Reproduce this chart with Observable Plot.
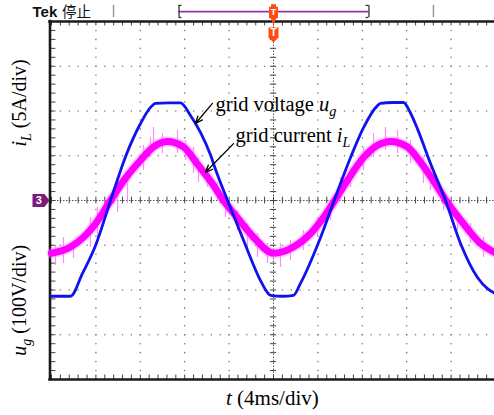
<!DOCTYPE html>
<html><head><meta charset="utf-8">
<script src="https://cdn.jsdelivr.net/npm/d3@7"></script>
<script src="https://cdn.jsdelivr.net/npm/@observablehq/plot@0.6"></script>
<style>html,body{margin:0;padding:0;background:#fff;overflow:hidden;}</style>
</head><body><div id="chart"></div>
<script>
// ---- data ----
// grid voltage u_g: time (ms), volts (100 V/div)
const voltT = [0,1.71,2.79,3.96,5.32,6.67,8.02,8.92,9.37,10.54,11.62,12.52,13.42,14.32,14.77,15.86,17.30,18.83,19.46,19.73,20.81,21.80,22.43,24.23,25.41,26.94,28.11,29.37,29.64,30.72,31.71,32.35,32.97,34.14,35.50,36.85,38.38,39.28,40];
const voltV = [-214,-214,-163,-101,0,98,172,208,217,218,218,190,152,102,70,0,-89,-179,-206,-212,-214,-212,-185,-83,-4,96,163,212,217,219,219,195,160,83,0,-96,-172,-197,-208];
// grid current i_L: time (ms), amps (5 A/div)
const currT = [0,1.71,2.88,3.96,5.32,6.67,8.02,9.19,10.42,11.89,13.13,13.69,14.59,15.5,16.73,18.2,20.0,21.8,23.33,24.5,25.41,26.64,28.11,29.34,30.54,32.04,33.24,34.41,35.65,37.12,38.65,40];
const currA = [-5.9,-5.2,-4.1,-2.6,0,2.5,4.5,6.0,6.6,6.0,4.1,3.2,1.7,0,-1.9,-4.1,-5.9,-5.2,-3.7,-1.9,-0.2,2.2,4.8,6.15,6.6,6.0,4.3,2.2,-0.2,-2.6,-4.8,-5.85];
// noise spikes on the current trace: time (ms), top (A), bottom (A)
const spikeT  = [0.36,1.08,1.98,3.51,4.14,5.95,6.85,8.29,8.92,9.19,10.0,11.35,12.07,12.79,13.24,14.05,14.95,15.68,16.76,17.66,18.56,19.46,20.63,21.53,22.70,23.96,25.14,26.04,26.94,28.11,29.01,30.09,31.17,32.34,33.51,34.14,35.32,36.58,37.75,38.92];
const spikeHi = [-5.03,-4.13,-4.47,-1.90,-0.78,1.12,3.02,6.15,7.04,8.16,7.49,7.82,6.70,5.92,4.80,3.69,2.01,0.34,-1.12,-2.57,-3.69,-4.80,-4.80,-4.47,-3.35,-1.90,-0.34,2.57,3.69,5.92,7.49,8.16,7.82,6.70,4.80,3.69,1.12,-1.12,-2.57,-4.13];
const spikeLo = [-7.26,-7.04,-6.48,-5.25,-4.13,-1.34,-0.34,3.35,4.80,5.59,5.25,5.25,4.47,3.02,2.01,1.45,0,-1.90,-3.35,-5.25,-6.37,-7.04,-7.49,-6.70,-5.59,-4.13,-2.23,0,1.45,3.35,4.80,5.59,5.25,4.13,1.90,1.12,-1.12,-3.35,-4.80,-6.37];
// graticule: 10 horizontal divisions of 4 ms, 8 vertical divisions
const xTicks = [0,4,8,12,16,20,24,28,32,36,40];
const yTicks = [-4,-3,-2,-1,0,1,2,3,4];
const voltsPerDiv = 100, ampsPerDiv = 5, minorPerDiv = 5;

// ---- derived tables ----
const volt = voltT.map((t,i)=>({t, d: voltV[i]/voltsPerDiv}));
const curr = currT.map((t,i)=>({t, d: currA[i]/ampsPerDiv}));
const spikes = spikeT.map((t,i)=>({t, hi: spikeHi[i]/ampsPerDiv, lo: spikeLo[i]/ampsPerDiv}));
const xStep = (xTicks[1]-xTicks[0])/minorPerDiv, yStep = (yTicks[1]-yTicks[0])/minorPerDiv;
const xMinor = d3.range(xTicks[0], xTicks[xTicks.length-1]+1e-9, xStep);
const yMinor = d3.range(yTicks[0], yTicks[yTicks.length-1]+1e-9, yStep);
const xMid = xTicks[5], x0 = xTicks[0], yTop = yTicks[yTicks.length-1], yBot = yTicks[0];
const gridDots = [];
for (const x of xTicks) if (x!==x0 && x!==xMid && x!==xTicks[10]) for (const y of yMinor) gridDots.push({x,y});
for (const y of yTicks) if (y!==yTop && y!==yBot && y!==0) for (const x of xMinor) gridDots.push({x,y});

// custom marker shapes
const chMarker = {draw(c){c.moveTo(-8,-6.5);c.lineTo(4,-6.5);c.lineTo(9,0);c.lineTo(4,6.5);c.lineTo(-8,6.5);c.closePath();}};
const trigTop = {draw(c){c.moveTo(-2.5,-7.5);c.lineTo(2.5,-7.5);c.lineTo(2.5,-5);c.lineTo(4.5,-5);c.lineTo(4.5,6);c.lineTo(2.5,7);c.lineTo(0,13);c.lineTo(-2.5,7);c.lineTo(-4.5,6);c.lineTo(-4.5,-5);c.lineTo(-2.5,-5);c.closePath();}};
const trigBot = {draw(c){c.moveTo(-5,-6);c.lineTo(5,-6);c.lineTo(5,4);c.lineTo(0,9);c.lineTo(-5,4);c.closePath();}};

const serif = "Liberation Serif, Times New Roman, serif";
const sans = "Liberation Sans, Arial, sans-serif";
const orange = "#ff4a14";

const chart = Plot.plot({
  width: 494, height: 415,
  marginLeft: 0, marginRight: 0, marginTop: 0, marginBottom: 0,
  style: {background: "#fff", overflow: "visible"},
  x: {domain: [0, 40], range: [51, 495], axis: null},
  y: {domain: [-4, 4], range: [379, 21], axis: null},
  marks: [
    // graticule dots
    Plot.dot(gridDots, {x: "x", y: "y", r: 0.8, fill: "#7a7a7a", stroke: null}),
    // centre lines with minor ticks
    Plot.ruleY([0], {x1: 0, x2: 40, stroke: "#555", strokeWidth: 1, strokeDasharray: "1.5 1.5"}),
    Plot.ruleX([xMid], {y1: -4, y2: 4, stroke: "#555", strokeWidth: 1, strokeDasharray: "1.5 1.5"}),
    Plot.ruleX(xMinor, {x: d=>d, y1: -0.075, y2: 0.075, stroke: "#444", strokeWidth: 1}),
    Plot.ruleY(yMinor, {y: d=>d, x1: xMid-0.28, x2: xMid+0.28, stroke: "#444", strokeWidth: 1}),
    // border ticks
    Plot.ruleX(xMinor, {x: d=>d, y1: 4, y2: 3.9, stroke: "#444", strokeWidth: 1}),
    Plot.ruleX(xMinor, {x: d=>d, y1: -4, y2: -3.9, stroke: "#444", strokeWidth: 1}),
    Plot.ruleY(yMinor, {y: d=>d, x1: 0, x2: 0.4, stroke: "#444", strokeWidth: 1}),
    // frame
    Plot.ruleX([0], {y1: -4.03, y2: 4.03, dx: -1.5, stroke: "#1a1a1a", strokeWidth: 2.6}),
    Plot.ruleY([4], {x1: -0.25, x2: 40, stroke: "#1a1a1a", strokeWidth: 2.6}),
    Plot.ruleY([-4], {x1: -0.25, x2: 40, stroke: "#1a1a1a", strokeWidth: 2.6}),
    // current trace (noisy band)
    Plot.line(curr, {x: "t", y: "d", stroke: "#ff77ff", strokeWidth: 10.5, strokeOpacity: 0.35, curve: "monotone-x"}),
    Plot.ruleX(spikes, {x: "t", y1: "lo", y2: "hi", stroke: "#ff80ff", strokeWidth: 1.2, strokeOpacity: 0.9}),
    Plot.line(curr, {x: "t", y: "d", stroke: "#ff00ff", strokeWidth: 7, curve: "monotone-x"}),
    // voltage trace
    Plot.line(volt, {x: "t", y: "d", stroke: "#1212ee", strokeWidth: 2.8, curve: "monotone-x"}),
    // annotations
    Plot.arrow([0], {x1: 14.5, y1: 2.17, x2: 12.97, y2: 1.72, stroke: "#000", strokeWidth: 1.3, headLength: 9, headAngle: 45}),
    Plot.arrow([0], {x1: 16.4, y1: 1.27, x2: 13.87, y2: 0.63, stroke: "#000", strokeWidth: 1.3, headLength: 9, headAngle: 45}),
    Plot.text(["grid voltage"], {x: 14.77, y: 2.01, text: d=>d, textAnchor: "start", lineAnchor: "bottom", fontFamily: serif, fontSize: 20.5, fill: "#000"}),
    Plot.text(["grid current"], {x: 16.58, y: 1.30, text: d=>d, textAnchor: "start", lineAnchor: "bottom", fontFamily: serif, fontSize: 20.5, fill: "#000"}),
    // axis-like labels
    Plot.text(["iL (5A/div)"], {x: -2.3, y: 2.18, text: d=>d, rotate: -90, textAnchor: "middle", lineAnchor: "bottom", fontFamily: serif, fontSize: 20, fill: "#000"}),
    Plot.text(["ug (100V/div)"], {x: -2.3, y: -2.23, text: d=>d, rotate: -90, textAnchor: "middle", lineAnchor: "bottom", fontFamily: serif, fontSize: 20, fill: "#000"}),
    Plot.text(["t (4ms/div)"], {x: 19.9, y: -4.56, text: d=>d, textAnchor: "middle", lineAnchor: "bottom", fontFamily: serif, fontSize: 21, fill: "#000"}),
    // header
    Plot.text(["Tek"], {x: -1.71, y: 4.09, text: d=>d, textAnchor: "start", lineAnchor: "bottom", fontFamily: sans, fontWeight: "bold", fontSize: 15, fill: "#111"}),
    Plot.text(["停止"], {x: 0.95, y: 4.09, text: d=>d, textAnchor: "start", lineAnchor: "bottom", fontFamily: "Noto Sans CJK SC", fontSize: 14.5, fill: "#111"}),
    Plot.ruleX([5.59, 34.41], {x: d=>d, y1: 4.09, y2: 4.36, stroke: "#999", strokeWidth: 1.5}),
    Plot.ruleY([4.22], {x1: 11.49, x2: 28.6, stroke: "#9933aa", strokeWidth: 1.6}),
    Plot.ruleX([11.49, 28.6], {x: d=>d, y1: 4.09, y2: 4.36, stroke: "#333", strokeWidth: 1.3}),
    Plot.ruleY([4.09, 4.36], {y: d=>d, x1: 11.49, x2: 11.75, stroke: "#333", strokeWidth: 1.3}),
    Plot.ruleY([4.09, 4.36], {y: d=>d, x1: 28.34, x2: 28.6, stroke: "#333", strokeWidth: 1.3}),
    // trigger markers
    Plot.dot([0], {x: xMid, y: 4.22, symbol: trigTop, r: 5, fill: orange, stroke: null}),
    Plot.text(["T"], {x: xMid, y: 4.2, text: d=>d, fill: "#fff", fontFamily: sans, fontWeight: "bold", fontSize: 9}),
    Plot.dot([0], {x: xMid, y: 3.73, symbol: trigBot, r: 5, fill: orange, stroke: null}),
    Plot.text(["T"], {x: xMid, y: 3.74, text: d=>d, fill: "#fff", fontFamily: sans, fontWeight: "bold", fontSize: 10}),
    // channel 3 marker
    Plot.dot([0], {x: -0.99, y: 0, symbol: chMarker, r: 5, fill: "#7a1b7a", stroke: null}),
    Plot.text(["3"], {x: -1.15, y: 0, text: d=>d, fill: "#fff", fontFamily: sans, fontWeight: "bold", fontSize: 11})
  ]
});

// rich text: rebuild label texts with italic symbols and subscripts
const richParts = {
  "grid voltage": [{text: "grid voltage "}, {text: "u", italic: true}, {text: "g", italic: true, size: 14, dy: 5}],
  "grid current": [{text: "grid current "}, {text: "i", italic: true}, {text: "L", italic: true, size: 14, dy: 5}],
  "iL (5A/div)": [{text: "i", italic: true}, {text: "L", italic: true, size: 14, dy: 5}, {text: " (5A/div)", dy: -5}],
  "ug (100V/div)": [{text: "u", italic: true}, {text: "g", italic: true, size: 14, dy: 5}, {text: " (100V/div)", dy: -5}],
  "t (4ms/div)": [{text: "t", italic: true}, {text: " (4ms/div)"}]
};
chart.querySelectorAll("text").forEach(el => {
  const key = el.textContent.trim();
  const parts = richParts[key];
  if (!parts) return;
  while (el.firstChild) el.removeChild(el.firstChild);
  for (const p of parts) {
    const ts = document.createElementNS("http://www.w3.org/2000/svg", "tspan");
    ts.textContent = p.text;
    if (p.italic) ts.setAttribute("font-style", "italic");
    if (p.size) ts.setAttribute("font-size", p.size);
    if (p.dy) ts.setAttribute("dy", p.dy);
    el.appendChild(ts);
  }
});

document.getElementById("chart").appendChild(chart);
</script>
</body></html>
